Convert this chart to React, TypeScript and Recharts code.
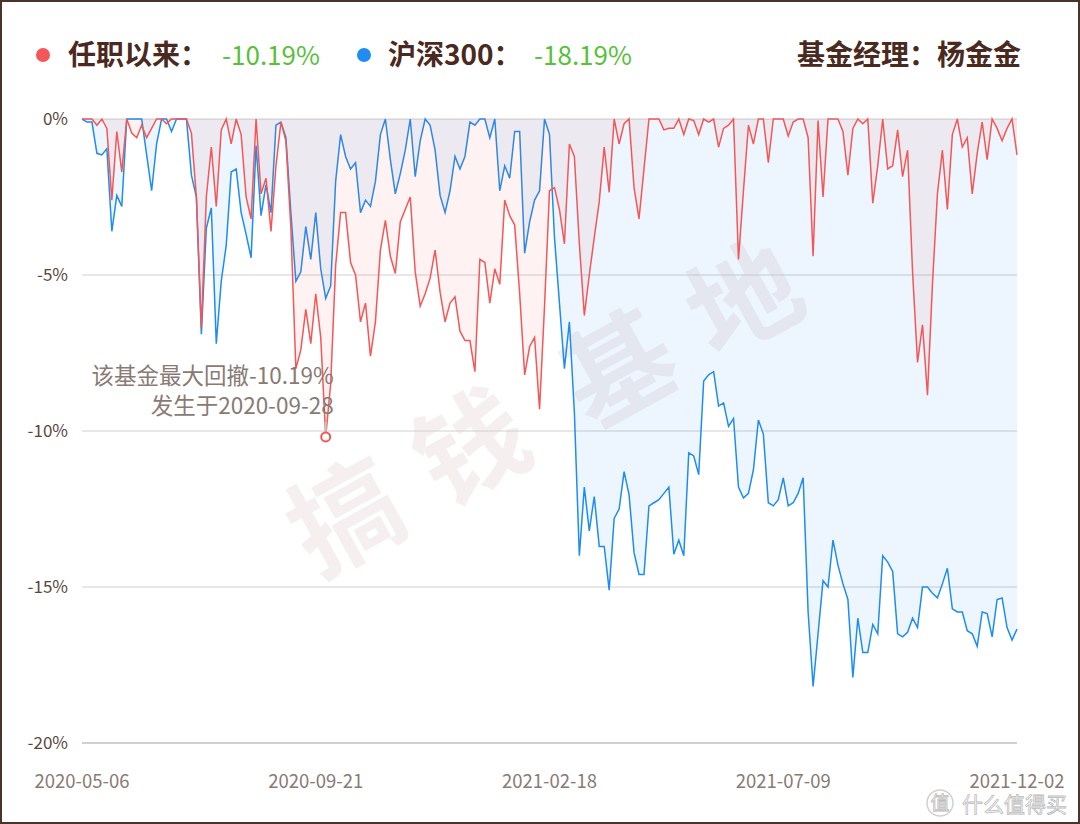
import React from "react";
import { AreaChart, Area, XAxis, YAxis, CartesianGrid, ReferenceDot } from "recharts";

// drawdown (%), roughly every second trading day
const fundDrawdown = [
  0, 0, 0, -0.2, 0, -0.3, -2.6, -0.4, -1.7, 0,
  -0.45, -0.6, -0.2, -0.6, -0.3, 0, 0, -0.15, 0, 0,
  0, 0, -0.45, -2.5, -6.7, -2.5, -0.9, -2.8, -0.35, 0,
  -0.8, 0, -0.5, -2.5, -3.2, 0, -2.4, -1.9, -3.6, -1.5,
  -0.1, -0.7, -3.5, -8.0, -7.4, -6.1, -7.2, -5.6, -7.0, -10.19,
  -8.5, -4.7, -3.0, -3.0, -4.6, -5.0, -6.5, -5.9, -7.6, -6.5,
  -4.2, -3.25, -4.4, -4.95, -3.3, -2.9, -2.5, -4.9, -6.0, -5.6,
  -5.1, -4.2, -5.55, -6.5, -5.9, -5.7, -6.8, -7.1, -7.1, -8.1,
  -4.5, -4.6, -5.9, -4.8, -5.3, -2.6, -3.1, -3.4, -5.6, -8.2,
  -7.3, -7.0, -9.3, -6.0, -2.3, -2.2, -2.9, -4.0, -0.8, -1.2,
  -4.0, -6.3, -5.0, -3.8, -2.65, -0.9, -2.35, 0, -0.8, -0.15,
  0, -2.2, -3.2, -1.6, 0, 0, 0, -0.35, -0.3, -0.3,
  0, -0.5, 0, -0.05, -0.5, 0, -0.1, 0, -0.9, -0.3,
  -0.2, 0, -4.5, -2.3, -0.2, -0.8, 0, 0, -1.4, 0,
  0, 0, -0.55, -0.1, 0, 0, -0.6, -4.4, -0.05, -2.5,
  0, 0, 0, -0.4, -1.8, -0.3, 0, -0.15, 0, -2.7,
  -1.5, 0, -1.6, -1.5, -0.35, -1.85, -1.0, -4.9, -7.8, -6.6,
  -8.85, -5.3, -2.4, -1.0, -2.9, -0.5, 0, -0.9, -0.6, -2.4,
  -1.1, -0.1, -1.3, 0, -0.3, -0.7, -0.3, 0, -1.15,
];

const hs300Drawdown = [
  0, -0.1, -0.1, -1.1, -1.15, -0.95, -3.6, -2.45, -2.8, 0,
  0, 0, 0, -1.15, -2.3, -0.8, 0, 0, -0.4, 0,
  0, 0, -1.8, -2.5, -6.9, -3.5, -2.85, -7.2, -5.2, -4.05,
  -1.7, -1.6, -3.0, -3.7, -4.45, -0.85, -3.1, -2.1, -3.0, -0.2,
  -0.1, -0.6, -3.0, -5.2, -4.9, -3.45, -4.5, -3.0, -4.8, -5.75,
  -5.35, -2.0, -0.5, -1.2, -1.6, -1.4, -3.0, -2.6, -2.8, -2.0,
  -0.5, 0, -1.3, -2.4, -1.75, -1.0, 0, -1.85, -0.7, 0,
  -0.2, -1.0, -2.45, -3.0, -2.3, -1.2, -1.6, -1.2, -0.1, -0.2,
  0, 0, -0.6, 0, -2.3, -1.5, -1.9, -0.4, -0.4, -4.3,
  -3.3, -2.6, -2.3, 0, -0.5, -3.8, -5.9, -8.0, -6.5, -9.4,
  -14.0, -11.8, -13.2, -12.1, -13.7, -13.7, -15.1, -12.8, -12.5, -11.3,
  -12.05, -13.9, -14.6, -14.6, -12.4, -12.3, -12.2, -12.0, -11.8, -13.95,
  -13.5, -14.0, -10.7, -10.8, -11.4, -8.4, -8.2, -8.1, -9.2, -9.1,
  -9.85, -9.6, -11.8, -12.15, -12.0, -11.25, -9.65, -10.1, -12.3, -12.4,
  -12.2, -11.5, -12.4, -12.3, -12.0, -11.5, -15.8, -18.19, -16.5, -14.8,
  -15.0, -13.5, -14.3, -14.9, -15.4, -17.9, -16.0, -17.1, -17.1, -16.2,
  -16.5, -14.0, -14.2, -14.5, -16.5, -16.6, -16.45, -16.0, -16.3, -15.0,
  -15.0, -15.2, -15.35, -14.9, -14.4, -15.7, -15.8, -15.8, -16.4, -16.5,
  -16.9, -15.8, -15.85, -16.6, -15.4, -15.35, -16.3, -16.7, -16.35,
];

const xTickIndex = [0, 47, 94, 141, 188];
const xTickLabels = ["2020-05-06", "2020-09-21", "2021-02-18", "2021-07-09", "2021-12-02"];
const yTicks = [0, -5, -10, -15, -20];

const maxDrawdownIndex = 49;
const maxDrawdownValue = -10.19;
const maxDrawdownDate = "2020-09-28";

const chartData = fundDrawdown.map((v, i) => ({ i, fund: v, hs300: hs300Drawdown[i] }));

const FONT = '"Noto Sans CJK SC", "Noto Sans", sans-serif';
const RED = "#f45757";
const BLUE = "#1e8cf0";
const BROWN = "#4a2a1e";
const GREEN = "#57c13a";

function XTick({ x, y, payload }: any) {
  const k = xTickIndex.indexOf(payload.value);
  return (
    <text x={x} y={y} dy={45} textAnchor="middle" fill="#8a7a74" fontSize={18.5} fontFamily={FONT}>
      {xTickLabels[k]}
    </text>
  );
}

function YTick({ x, y, payload }: any) {
  return (
    <text x={x} y={y} dy={6} textAnchor="end" fill="#5a4740" fontSize={17} fontFamily={FONT}>
      {payload.value}%
    </text>
  );
}

function MaxDrawdownMark({ cx, cy }: any) {
  return (
    <g>
      <line x1={cx} x2={cx} y1={cy - 15} y2={cy - 5} stroke="#c4c4c4" strokeWidth={2} />
      <circle cx={cx} cy={cy} r={4.5} fill="#fff" stroke={RED} strokeWidth={2} />
      <text x={cx + 8} y={cy - 53} textAnchor="end" fill="#8a7a74" fontSize={22.5} fontFamily={FONT}>
        该基金最大回撤{maxDrawdownValue}%
      </text>
      <text x={cx + 8} y={cy - 23} textAnchor="end" fill="#8a7a74" fontSize={22.5} fontFamily={FONT}>
        发生于{maxDrawdownDate}
      </text>
    </g>
  );
}

const watermark = [
  { ch: "搞", x: 342, y: 510 },
  { ch: "钱", x: 467, y: 440 },
  { ch: "基", x: 615, y: 362 },
  { ch: "地", x: 740, y: 292 },
];

export default function App() {
  return (
    <div style={{ position: "absolute", left: 0, top: 0, width: 1080, height: 824, background: "#fff", fontFamily: FONT }}>
      <svg width={1080} height={824} style={{ position: "absolute", left: 0, top: 0 }}>
        {watermark.map((w) => (
          <text
            key={w.ch}
            x={w.x}
            y={w.y}
            textAnchor="middle"
            dominantBaseline="central"
            fontSize={110}
            fontWeight={700}
            fontFamily={FONT}
            fill="#b98080"
            fillOpacity={0.13}
            transform={`rotate(-29 ${w.x} ${w.y})`}
          >
            {w.ch}
          </text>
        ))}
      </svg>

      <div style={{ position: "absolute", left: 0, top: 0 }}>
        <AreaChart width={1080} height={824} data={chartData} margin={{ top: 119, right: 63, bottom: 41, left: 12 }}>
          <CartesianGrid vertical={false} stroke="#d0d0d0" />
          <XAxis
            dataKey="i"
            type="number"
            domain={[0, 188]}
            ticks={xTickIndex}
            interval={0}
            axisLine={{ stroke: "#c8c8c8", strokeWidth: 1.5 }}
            tickLine={false}
            tickSize={0}
            tickMargin={0}
            height={40}
            tick={(p: any) => <XTick {...p} />}
          />
          <YAxis
            type="number"
            domain={[-20, 0]}
            ticks={yTicks}
            interval={0}
            axisLine={false}
            tickLine={false}
            tickSize={0}
            tickMargin={14}
            width={70}
            tick={(p: any) => <YTick {...p} />}
          />
          <Area
            type="linear"
            dataKey="hs300"
            baseValue={0}
            stroke={BLUE}
            strokeWidth={1.5}
            fill={BLUE}
            fillOpacity={0.08}
            dot={false}
            activeDot={false}
            isAnimationActive={false}
          />
          <Area
            type="linear"
            dataKey="fund"
            baseValue={0}
            stroke={RED}
            strokeWidth={1.5}
            fill={RED}
            fillOpacity={0.08}
            dot={false}
            activeDot={false}
            isAnimationActive={false}
          />
          <ReferenceDot
            x={maxDrawdownIndex}
            y={maxDrawdownValue}
            r={4.5}
            ifOverflow="visible"
            shape={(p: any) => <MaxDrawdownMark {...p} />}
          />
        </AreaChart>
      </div>

      <svg width={1080} height={824} style={{ position: "absolute", left: 0, top: 0, pointerEvents: "none" }}>
        <circle cx={43} cy={55} r={7} fill={RED} />
        <text x={68} y={65} fontSize={28} fontWeight={700} fill={BROWN} fontFamily={FONT}>任职以来：</text>
        <text x={222} y={65} fontSize={26} fill={GREEN} fontFamily={FONT}>-10.19%</text>
        <circle cx={364} cy={55} r={7} fill={BLUE} />
        <text x={388} y={65} fontSize={28} fontWeight={700} fill={BROWN} fontFamily={FONT}>沪深300：</text>
        <text x={534} y={65} fontSize={26} fill={GREEN} fontFamily={FONT}>-18.19%</text>
        <text x={1021} y={65} textAnchor="end" fontSize={28} fontWeight={700} fill={BROWN} fontFamily={FONT}>基金经理：杨金金</text>

        <circle cx={940} cy={803} r={13} fill="none" stroke="#d0d0d0" strokeWidth={1.5} />
        <text x={940} y={810} textAnchor="middle" fontSize={19} fill="#fff" stroke="#bdbdbd" strokeWidth={0.8} fontFamily={FONT}>值</text>
        <text x={962} y={812} fontSize={21} fill="#fff" stroke="#bdbdbd" strokeWidth={0.8} fontFamily={FONT}>什么值得买</text>
      </svg>

      <div style={{ position: "absolute", left: 0, top: 0, width: 1080, height: 824, boxSizing: "border-box", border: "2px solid #4a3328", pointerEvents: "none" }} />
    </div>
  );
}
